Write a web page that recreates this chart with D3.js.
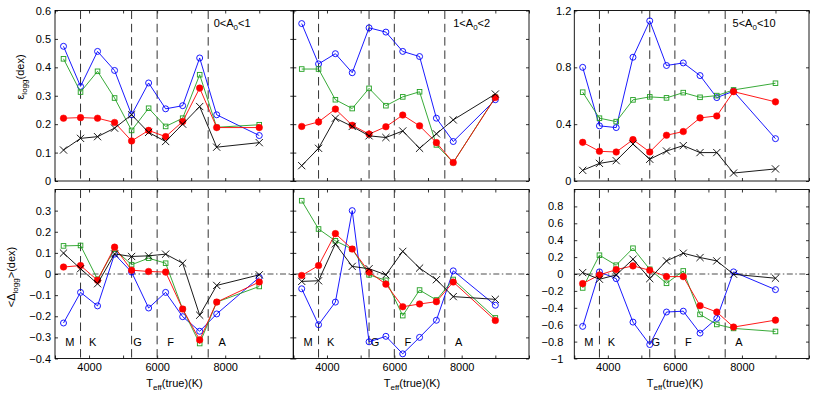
<!DOCTYPE html>
<html><head><meta charset="utf-8">
<script src="https://cdn.jsdelivr.net/npm/d3@7"></script>
<style>
html,body{margin:0;padding:0;background:#fff;}
text{font-family:"Liberation Sans",Arial,Helvetica,sans-serif;fill:#000;}
</style></head>
<body><svg id="c" width="817" height="397"></svg>
<script>
// ---- data ----
const teff = [3250,3750,4250,4750,5250,5750,6250,6750,7250,7750,9000];
const boundaries = [3750,5250,6000,7500];
const specLetters = ["M","K","G","F","A"];
const specPos = [3300,4000,5300,6300,7800];
const xTicks = [3000,4000,5000,6000,7000,8000,9000,10000];
const xTickLabels = [4000,6000,8000];
const panelTitles = ["0<A|0|<1","1<A|0|<2","5<A|0|<10"];

// top row: epsilon_logg
const epsBlue1  = [0.474,0.333,0.456,0.389,0.233,0.345,0.254,0.265,0.433,0.233,0.160];
const epsGreen1 = [0.430,0.313,0.386,0.292,0.178,0.256,0.192,0.221,0.374,0.189,0.198];
const epsRed1   = [0.221,0.223,0.221,0.206,0.141,0.178,0.156,0.209,0.327,0.188,0.188];
const epsBlack1 = [0.109,0.150,0.156,0.186,0.233,0.171,0.139,0.200,0.262,0.119,0.135];

const epsBlue2  = [0.554,0.412,0.448,0.381,0.539,0.524,0.456,0.438,0.221,0.139,0.286];
const epsGreen2 = [0.394,0.394,0.286,0.255,0.326,0.265,0.296,0.314,0.127,0.065,0.295];
const epsRed2   = [0.192,0.208,0.253,0.196,0.165,0.191,0.232,0.194,0.135,0.065,0.294];
const epsBlack2 = [0.054,0.115,0.221,0.192,0.159,0.153,0.176,0.115,0.166,0.215,0.306];

const epsBlue3  = [0.800,0.388,0.376,0.871,1.127,0.813,0.831,0.742,0.587,0.632,0.298];
const epsGreen3 = [0.625,0.442,0.418,0.571,0.592,0.585,0.622,0.589,0.601,0.641,0.688];
const epsRed3   = [0.272,0.209,0.204,0.291,0.204,0.322,0.348,0.444,0.458,0.629,0.557];
const epsBlack3 = [0.075,0.124,0.143,0.260,0.153,0.211,0.249,0.200,0.200,0.056,0.085];

// bottom row: <Delta_logg>
const dBlue1  = [-0.232,-0.087,-0.151,0.094,0.009,-0.161,-0.087,-0.202,-0.271,-0.189,-0.016];
const dGreen1 = [0.133,0.135,-0.025,0.117,0.044,0.075,0.051,-0.166,-0.329,-0.133,-0.059];
const dRed1   = [0.033,0.040,-0.030,0.127,0.018,0.012,0.009,-0.166,-0.312,-0.133,-0.038];
const dBlack1 = [0.099,0.025,-0.046,0.095,0.083,0.086,0.094,0.051,-0.195,-0.054,-0.004];

const dBlue2  = [-0.070,-0.240,-0.133,0.300,-0.321,-0.295,-0.378,-0.300,-0.219,0.015,-0.148];
const dGreen2 = [0.347,0.213,0.157,0.118,-0.004,-0.030,-0.197,-0.076,-0.123,-0.026,-0.208];
const dRed2   = [-0.007,0.040,0.191,0.118,0.009,-0.048,-0.155,-0.142,-0.131,-0.038,-0.220];
const dBlack2 = [-0.035,-0.032,0.143,0.036,0.025,-0.004,0.107,0.028,-0.027,-0.107,-0.120];

const dBlue3  = [-0.620,0.025,-0.055,-0.569,-0.835,-0.450,-0.440,-0.700,-0.525,0.025,-0.185];
const dGreen3 = [-0.165,0.222,0.104,0.305,0.056,-0.110,0.036,-0.478,-0.597,-0.644,-0.680];
const dRed3   = [-0.114,-0.011,0.052,0.096,0.044,-0.031,-0.031,-0.375,-0.450,-0.628,-0.546];
const dBlack3 = [0.017,-0.062,-0.011,0.175,-0.055,0.155,0.246,0.195,0.155,-0.003,-0.050];

const yTicksEpsA = [0,0.1,0.2,0.3,0.4,0.5,0.6];
const yTicksEpsB = [0,0.4,0.8,1.2];
const yTicksDA = [-0.4,-0.3,-0.2,-0.1,0,0.1,0.2,0.3];
const yTicksDB = [-1,-0.8,-0.6,-0.4,-0.2,0,0.2,0.4,0.6,0.8];

// ---- layout ----
const svg = d3.select("#c");
const cols = [[55,293.3],[293.3,529],[574.3,809]];
const rows = [[10.5,181],[189.5,358.5]];
const COL = {blue:"#0000ff", green:"#22a022", red:"#ff0000", black:"#000000"};

function fmt(d){ let s = String(+d.toFixed(2)); return s.replace("-", "\u2212"); }

const panels = [
 {r:0,c:0,dom:[0,0.6],ticks:yTicksEpsA,labels:true,lblEnd:4,series:[epsBlue1,epsGreen1,epsRed1,epsBlack1]},
 {r:0,c:1,dom:[0,0.6],ticks:yTicksEpsA,labels:false,series:[epsBlue2,epsGreen2,epsRed2,epsBlack2]},
 {r:0,c:2,dom:[0,1.2],ticks:yTicksEpsB,labels:true,lblEnd:3,series:[epsBlue3,epsGreen3,epsRed3,epsBlack3]},
 {r:1,c:0,dom:[-0.4,0.4],ticks:yTicksDA,labels:true,lblEnd:4,series:[dBlue1,dGreen1,dRed1,dBlack1]},
 {r:1,c:1,dom:[-0.4,0.4],ticks:yTicksDA,labels:false,series:[dBlue2,dGreen2,dRed2,dBlack2]},
 {r:1,c:2,dom:[-1,1],ticks:yTicksDB,labels:true,lblEnd:11,series:[dBlue3,dGreen3,dRed3,dBlack3]},
];
const seriesKeys = ["blue","green","red","black"];
const xLabelCenters = [174.5, 412, 675];

panels.forEach(p=>{
  const [x0,x1] = cols[p.c], [y0,y1] = rows[p.r];
  const x = d3.scaleLinear().domain([3000,10000]).range([x0,x1]);
  const y = d3.scaleLinear().domain(p.dom).range([y1,y0]);
  const g = svg.append("g");

  // axes
  const ax = (gen, tr) => {
    const a = g.append("g").attr("transform", tr).call(gen);
    a.select(".domain").remove();
    a.selectAll("line").attr("stroke","#000").attr("stroke-width",0.8);
    a.selectAll("text").attr("font-size","11px").attr("font-family","Liberation Sans, Arial, sans-serif");
    return a;
  };
  const lft = ax(d3.axisLeft(y).tickValues(p.ticks).tickSizeInner(-3).tickSizeOuter(0)
      .tickPadding(p.labels ? p.lblEnd : 0).tickFormat(p.labels ? fmt : ""), `translate(${x0},0)`);
  ax(d3.axisRight(y).tickValues(p.ticks).tickSizeInner(-3).tickSizeOuter(0).tickFormat(""), `translate(${x1},0)`);
  ax(d3.axisTop(x).tickValues(xTicks).tickSizeInner(-3).tickSizeOuter(0).tickFormat(""), `translate(0,${y0})`);
  const bot = ax(d3.axisBottom(x).tickValues(xTicks).tickSizeInner(-3).tickSizeOuter(0).tickPadding(5)
      .tickFormat(d => (p.r===1 && xTickLabels.includes(d)) ? String(d) : ""), `translate(0,${y1})`);

  // box
  g.append("rect").attr("x",x0).attr("y",y0).attr("width",x1-x0).attr("height",y1-y0)
    .attr("fill","none").attr("stroke","#000").attr("stroke-width",0.9);

  // boundaries
  g.selectAll(".bd").data(boundaries).enter().append("line")
    .attr("x1",d=>x(d)).attr("x2",d=>x(d)).attr("y1",y0).attr("y2",y1)
    .attr("stroke","#333").attr("stroke-width",1).attr("stroke-dasharray","8.5,4.8");

  if(p.r===1){
    g.append("line").attr("x1",x0).attr("x2",x1).attr("y1",y(0)).attr("y2",y(0))
      .attr("stroke","#000").attr("stroke-width",0.7).attr("stroke-dasharray","6,2.5,1.5,2.5");
    const ly = p.dom[0] + 0.095*(p.dom[1]-p.dom[0]);
    specLetters.forEach((L,i)=>{
      g.append("text").attr("x",x(specPos[i])).attr("y",y(ly)).attr("dy","0.35em")
        .attr("font-size","11px").text(L);
    });
    // x label
    const t = g.append("text").attr("x",xLabelCenters[p.c]).attr("y",387).attr("text-anchor","middle").attr("font-size","11px");
    t.append("tspan").text("T");
    t.append("tspan").attr("font-size","8px").attr("dy",3).text("eff");
    t.append("tspan").attr("dy",-3).text("(true)(K)");
  }

  // title annotation
  if(p.r===0){
    const parts = panelTitles[p.c].split("|");
    const t = g.append("text").attr("x",x(7750)).attr("y",y0+16.5).attr("font-size","11px");
    t.append("tspan").attr("dx", p.c===0 ? -3 : (p.c===2 ? -1 : 0)).text(parts[0]);
    t.append("tspan").attr("font-size","8px").attr("dy",3).text(parts[1]);
    t.append("tspan").attr("dy",-3).text(parts[2]);
  }

  // series
  const line = d3.line().x((d,i)=>x(teff[i])).y(d=>y(d));
  p.series.forEach((vals,si)=>{
    const key = seriesKeys[si], c = COL[key];
    g.append("path").attr("d",line(vals)).attr("fill","none").attr("stroke",c).attr("stroke-width",0.9);
    const m = g.selectAll(null).data(vals).enter();
    if(key==="blue"){
      m.append("circle").attr("cx",(d,i)=>x(teff[i])).attr("cy",d=>y(d)).attr("r",3)
        .attr("fill","none").attr("stroke",c).attr("stroke-width",0.9);
    } else if(key==="green"){
      m.append("rect").attr("x",(d,i)=>x(teff[i])-2.3).attr("y",d=>y(d)-2.3).attr("width",4.6).attr("height",4.6)
        .attr("fill","none").attr("stroke",c).attr("stroke-width",0.9);
    } else if(key==="red"){
      m.append("circle").attr("cx",(d,i)=>x(teff[i])).attr("cy",d=>y(d)).attr("r",3.3)
        .attr("fill",c).attr("stroke",c).attr("stroke-width",0.5);
    } else {
      m.append("path").attr("d",(d,i)=>{const cx=x(teff[i]), cy=y(d), s=3.6;
          return `M${cx-s},${cy-s}L${cx+s},${cy+s}M${cx-s},${cy+s}L${cx+s},${cy-s}`;})
        .attr("stroke",c).attr("stroke-width",0.9).attr("fill","none");
    }
  });
});

// y labels
const yl1 = svg.append("text").attr("transform","translate(24,77) rotate(-90)").attr("text-anchor","middle").attr("font-size","11px");
yl1.append("tspan").text("\u03b5");
yl1.append("tspan").attr("font-size","8px").attr("dy",3).text("logg");
yl1.append("tspan").attr("dy",-3).text("(dex)");
const yl2 = svg.append("text").attr("transform","translate(15,277) rotate(-90)").attr("text-anchor","middle").attr("font-size","11px");
yl2.append("tspan").text("<\u0394");
yl2.append("tspan").attr("font-size","8px").attr("dy",3).text("logg");
yl2.append("tspan").attr("dy",-3).text(">(dex)");
</script></body></html>
